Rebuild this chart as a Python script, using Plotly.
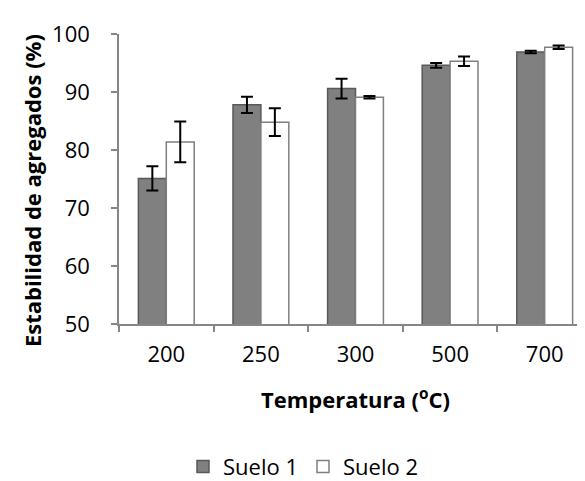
import plotly.graph_objects as go

categories = ["200", "250", "300", "500", "700"]
suelo1 = [75.1, 87.8, 90.6, 94.6, 96.9]
suelo1_err = [2.1, 1.4, 1.7, 0.4, 0.2]
suelo2 = [81.4, 84.8, 89.1, 95.3, 97.7]
suelo2_err = [3.5, 2.4, 0.2, 0.8, 0.3]

FONT = "Open Sans"

fig = go.Figure()
fig.add_trace(go.Bar(
    name="Suelo 1", x=categories, y=suelo1,
    marker=dict(color="#808080", line=dict(color="#595959", width=1.5)),
    error_y=dict(type="data", array=suelo1_err, color="black", thickness=2, width=6),
))
fig.add_trace(go.Bar(
    name="Suelo 2", x=categories, y=suelo2,
    marker=dict(color="white", line=dict(color="#7f7f7f", width=1.5)),
    error_y=dict(type="data", array=suelo2_err, color="black", thickness=2, width=6),
))

PL, PR, PT, PB = 111, 584, 26, 325
PW, PH = PR - PL, PB - PT

fig.update_layout(
    width=585, height=481,
    margin=dict(l=PL, r=585 - PR, t=PT, b=481 - PB),
    paper_bgcolor="white", plot_bgcolor="white",
    barmode="group", bargap=0.41, bargroupgap=0,
    font=dict(family=FONT, size=22, color="black"),
    showlegend=True,
    legend=dict(orientation="h", x=(295 - PL) / PW, xanchor="center",
                y=(PB - 472) / PH, yanchor="middle",
                font=dict(size=22), traceorder="normal"),
    xaxis=dict(
        type="category", showline=True, linecolor="#868686", linewidth=1.5,
        ticks="outside", tickson="boundaries", ticklen=6, tickcolor="#868686", tickwidth=1.5,
        tickfont=dict(size=22), ticklabelstandoff=10,
        showgrid=False,
    ),
    yaxis=dict(
        range=[50, 100], dtick=10, showline=True, linecolor="#868686", linewidth=1.5,
        ticks="outside", ticklen=6, tickcolor="#868686", tickwidth=1.5,
        tickfont=dict(size=22), ticklabelstandoff=17,
        showgrid=False, zeroline=False,
    ),
    annotations=[
        dict(text="<b>Estabilidad de agregados (%)</b>", textangle=-90,
             xref="paper", yref="paper", x=(24 - PL) / PW, y=(PB - 188) / PH,
             xanchor="center", yanchor="middle", showarrow=False, font=dict(size=22)),
        dict(text="<b>Temperatura (<sup>o</sup>C)</b>",
             xref="paper", yref="paper", x=(347 - PL) / PW, y=(PB - 402) / PH,
             xanchor="center", yanchor="middle", showarrow=False, font=dict(size=22)),
    ],
)

fig.write_html("out.html")
